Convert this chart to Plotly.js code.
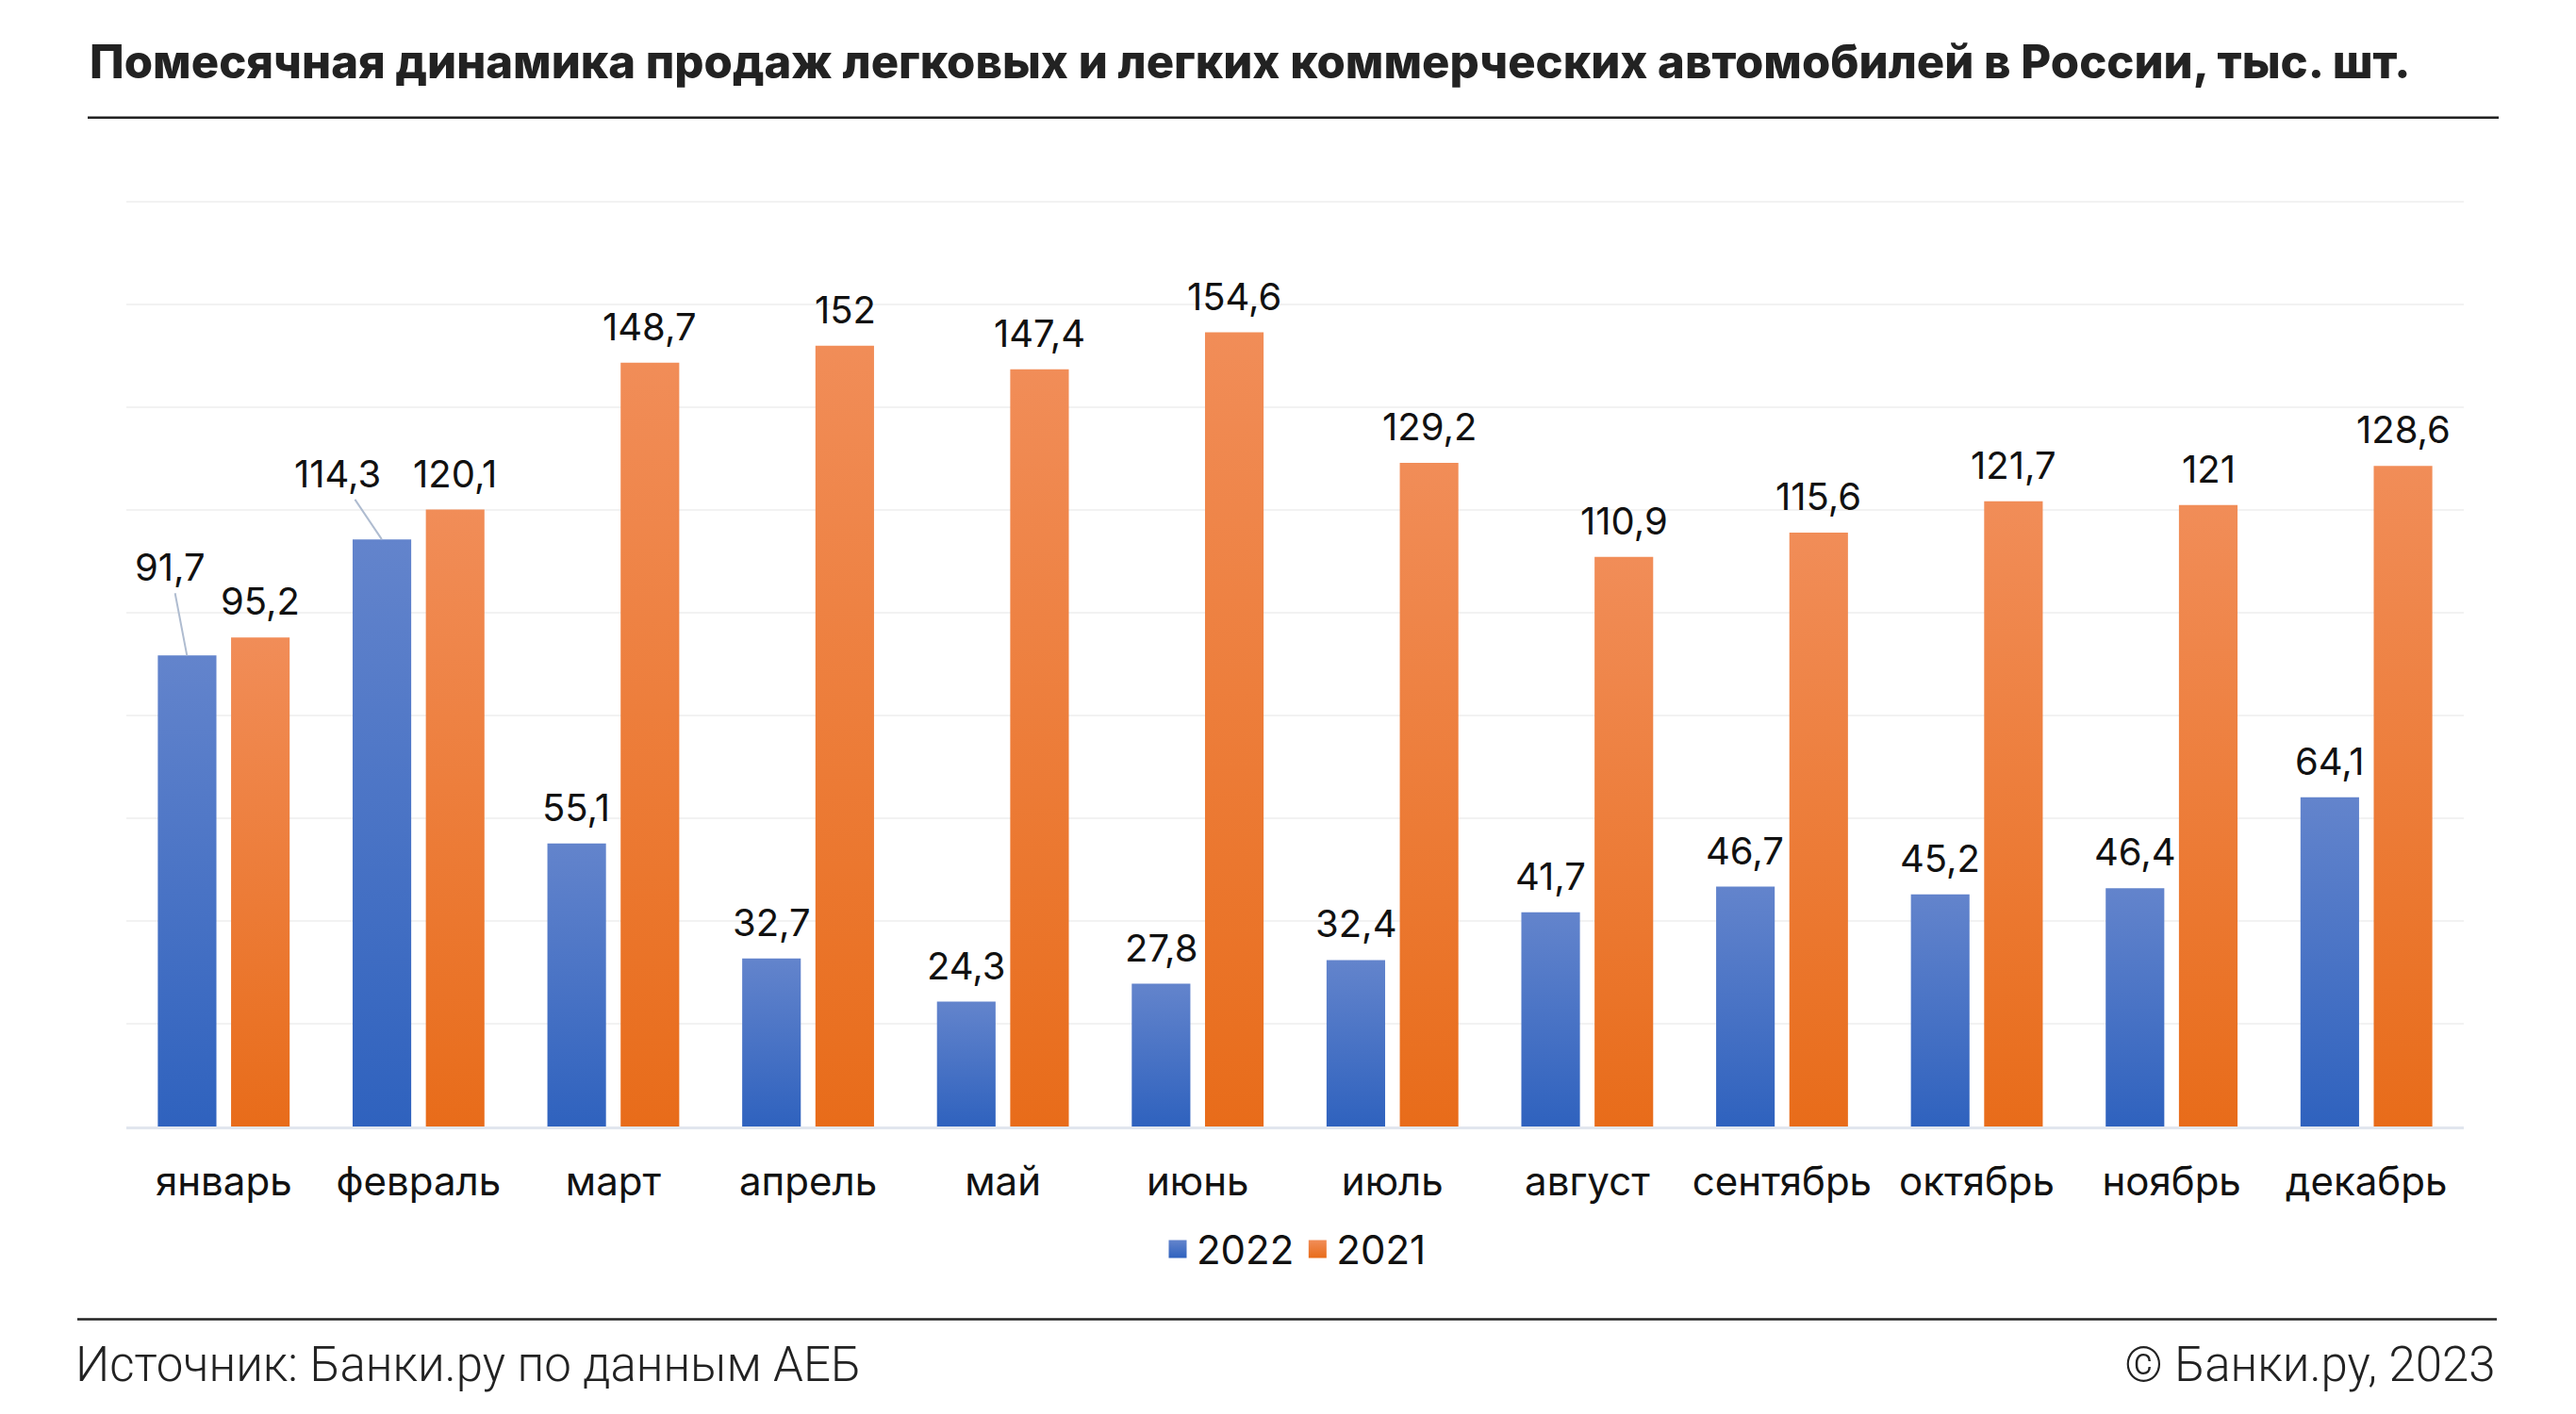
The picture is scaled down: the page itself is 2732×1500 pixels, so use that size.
<!DOCTYPE html>
<html>
<head>
<meta charset="utf-8">
<script src="https://cdn.plot.ly/plotly-3.0.1.min.js"></script>
<style>
  html, body { margin: 0; padding: 0; background: #ffffff; }
  #chart { width: 2732px; height: 1500px; }
</style>
</head>
<body>
<div id="chart"></div>
<script>
// ---- data ----
const months = ['январь', 'февраль', 'март', 'апрель', 'май', 'июнь', 'июль', 'август', 'сентябрь', 'октябрь', 'ноябрь', 'декабрь'];
const sales2022 = [91.7, 114.3, 55.1, 32.7, 24.3, 27.8, 32.4, 41.7, 46.7, 45.2, 46.4, 64.1];
const sales2021 = [95.2, 120.1, 148.7, 152, 147.4, 154.6, 129.2, 110.9, 115.6, 121.7, 121, 128.6];
const seriesNames = ['2022', '2021'];
const titleText = 'Помесячная динамика продаж легковых и легких коммерческих автомобилей в России, тыс. шт.';
const sourceText = 'Источник: Банки.ру по данным АЕБ';
const copyrightText = '© Банки.ру, 2023';

// ---- style ----
const blue = '#4873C5';
const orange = '#EC7B36';
const labelFont = { family: 'Inter, "Noto Sans", sans-serif', size: 40, color: '#111111' };
const footFont = { family: 'Roboto, sans-serif', size: 51, color: '#222222', weight: 300 };
const barShift = 39;        // px offset of each bar from its category centre
const leader = { 0: { ax: -18, ay: -94 }, 1: { ax: -47, ay: -70 } }; // label offsets for 2022 Jan/Feb

function fmt(v) { return String(v).replace('.', ','); }

const traces = [
  { type: 'bar', name: seriesNames[0], x: months, y: sales2022, marker: { color: blue }, hoverinfo: 'none' },
  { type: 'bar', name: seriesNames[1], x: months, y: sales2021, marker: { color: orange }, hoverinfo: 'none' }
];

const annotations = [];
months.forEach((m, i) => {
  if (leader[i]) {
    annotations.push({
      x: m, y: sales2022[i], xref: 'x', yref: 'y', xshift: -barShift,
      text: fmt(sales2022[i]), font: labelFont, showarrow: true, arrowhead: 0,
      arrowwidth: 2, arrowcolor: '#AFBCD0', standoff: 0, startstandoff: 2,
      ax: leader[i].ax, ay: leader[i].ay
    });
  } else {
    annotations.push({
      x: m, y: sales2022[i], xref: 'x', yref: 'y', xshift: -barShift, yshift: 12,
      text: fmt(sales2022[i]), font: labelFont, showarrow: false, yanchor: 'bottom'
    });
  }
  annotations.push({
    x: m, y: sales2021[i], xref: 'x', yref: 'y', xshift: barShift, yshift: 12,
    text: fmt(sales2021[i]), font: labelFont, showarrow: false, yanchor: 'bottom'
  });
});

annotations.push({
  text: sourceText, xref: 'paper', yref: 'paper', x: -0.0226, y: -0.257,
  xanchor: 'left', yanchor: 'middle', showarrow: false, font: footFont
});
annotations.push({
  text: copyrightText, xref: 'paper', yref: 'paper', x: 1.0145, y: -0.257,
  xanchor: 'right', yanchor: 'middle', showarrow: false, font: footFont
});

const layout = {
  width: 2732, height: 1500,
  paper_bgcolor: '#ffffff', plot_bgcolor: '#ffffff',
  margin: { l: 134, r: 119, t: 212, b: 305 },
  separators: ', ',
  barmode: 'group', bargap: 0.248, bargroupgap: 0.2,
  title: {
    text: titleText, xref: 'container', yref: 'container', x: 0.0348, xanchor: 'left',
    y: 0.956, yanchor: 'middle',
    font: { family: 'Inter, sans-serif', size: 49, weight: 800, color: '#222222' }
  },
  xaxis: {
    type: 'category', showgrid: false, zeroline: false,
    showline: true, linecolor: '#E1E6EE', linewidth: 3,
    ticks: '', ticklabelstandoff: 20,
    tickfont: { family: 'Inter, "Noto Sans", sans-serif', size: 42, color: '#111111' }
  },
  yaxis: {
    range: [0, 180.4], tick0: 0, dtick: 20, showticklabels: false,
    showgrid: true, gridcolor: '#F2F2F2', gridwidth: 2, zeroline: false
  },
  showlegend: true,
  legend: {
    orientation: 'h', x: 0.5, xanchor: 'center', y: -0.1325, yanchor: 'middle',
    font: { family: 'Inter, "Noto Sans", sans-serif', size: 42, color: '#111111' },
    itemwidth: 30, traceorder: 'normal'
  },
  shapes: [
    { type: 'line', xref: 'paper', yref: 'paper', x0: -0.01654, x1: 1.01493, y0: 1.0887, y1: 1.0887,
      line: { color: '#222222', width: 2.5 } },
    { type: 'line', xref: 'paper', yref: 'paper', x0: -0.02098, x1: 1.01412, y0: -0.20795, y1: -0.20795,
      line: { color: '#222222', width: 2.5 } }
  ],
  annotations: annotations
};

Plotly.newPlot('chart', traces, layout, { staticPlot: true }).then(gd => {
  // vertical gradient fill for each bar, as in the original
  const svg = gd.querySelector('svg.main-svg');
  const ns = 'http://www.w3.org/2000/svg';
  let defs = svg.querySelector('defs');
  if (!defs) { defs = document.createElementNS(ns, 'defs'); svg.insertBefore(defs, svg.firstChild); }
  function grad(id, top, bottom) {
    const g = document.createElementNS(ns, 'linearGradient');
    g.setAttribute('id', id); g.setAttribute('x1', '0'); g.setAttribute('y1', '0');
    g.setAttribute('x2', '0'); g.setAttribute('y2', '1');
    [[0, top], [1, bottom]].forEach(([o, c]) => {
      const s = document.createElementNS(ns, 'stop');
      s.setAttribute('offset', o); s.setAttribute('stop-color', c);
      g.appendChild(s);
    });
    defs.appendChild(g);
  }
  grad('gBlue', '#6384CC', '#2F62BE');
  grad('gOrange', '#F18D58', '#E86C1A');
  const ids = ['gBlue', 'gOrange'];
  gd.querySelectorAll('.barlayer .trace').forEach((t, k) => {
    t.querySelectorAll('path').forEach(p => { p.style.fill = 'url(#' + ids[k] + ')'; });
  });
  gd.querySelectorAll('.legend .traces').forEach((t, k) => {
    t.querySelectorAll('.legendpoints path').forEach(p => {
      p.setAttribute('d', 'M9.5,9.5H-9.5V-9.5H9.5Z');
      p.style.fill = 'url(#' + ids[k] + ')'; p.style.stroke = 'none';
    });
  });
});
</script>
</body>
</html>
